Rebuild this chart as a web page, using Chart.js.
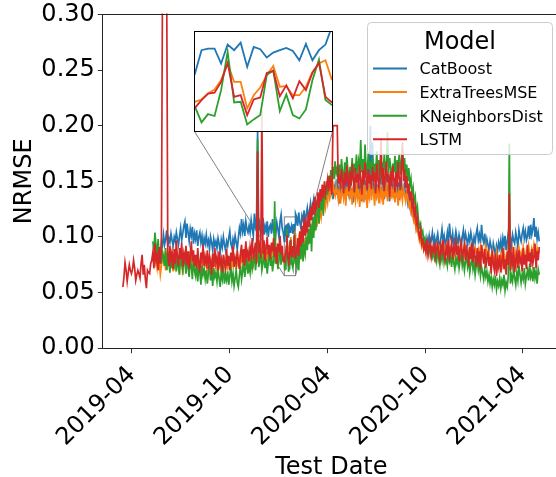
<!DOCTYPE html>
<html>
<head>
<meta charset="utf-8">
<script src="https://cdn.jsdelivr.net/npm/chart.js@4.4.0/dist/chart.umd.min.js"></script>
<style>
  html, body { margin: 0; padding: 0; background: #fff; overflow: hidden; }
  #wrap { position: relative; width: 560px; height: 477px; }
  #main { position: absolute; left: 0; top: 0; }
  #zoom { position: absolute; left: 194px; top: 31px; background: rgba(255, 255, 255, 0.85); }
</style>
</head>
<body>
<div id="wrap">
  <canvas id="main" width="560" height="477"></canvas>
  <canvas id="zoom" width="139" height="101"></canvas>
</div>
<script>
// NRMSE per test day, stored as value x 1000.
// head: 2019-03-15.. every 2 days (LSTM only)
// early: 2019-05-10.. every 2 days, zoom: 2020-01-11.. daily, late: 2020-02-03.. every 2 days
const lstmHead = [55, 64, 77, 70, 60, 68, 75, 70, 67, 71, 79, 72, 61, 66, 70, 67, 63, 76, 84, 66,
  75, 62, 54, 70, 68, 67, 76, 79];

const catBoostEarly = [
  84, 80, 88, 86, 82, 90, 87, 84, 95, 92,
  102, 93, 98, 106, 91, 99, 95, 103, 97, 92,
  100, 96, 104, 98, 93, 101, 108, 97, 103, 110,
  114, 99, 112, 104, 96, 107, 101, 109, 94, 103,
  98, 106, 92, 100, 104, 95, 101, 90, 99, 94,
  102, 93, 97, 89, 100, 95, 88, 98, 92, 96,
  90, 99, 94, 86, 97, 91, 100, 93, 88, 96,
  92, 99, 105, 94, 90, 98, 93, 101, 95, 89,
  99, 108, 103, 116, 105, 111, 101, 114, 107, 104,
  110, 104, 115, 107, 101, 121, 109, 113, 195, 106,
  112, 103, 109, 117, 102, 110, 105, 114, 100, 109,
  111, 103, 116, 106, 110, 102, 113, 107, 100, 114,
  120, 108, 104];
const catBoostZoom = [95.9, 108.3, 109.1, 109.1, 101.2, 111.3, 108.3, 112.3, 99.4, 110.0, 108.8,
  104.4, 107.0, 108.3, 109.5, 107.9, 102.9, 111.6, 102.9, 108.3, 111.3, 121.0];
const catBoostLate = [
  118, 110, 122, 113, 108, 119, 115, 124, 111, 120,
  126, 117, 123, 130, 119, 128, 134, 122, 131, 127,
  136, 125, 133, 141, 129, 138, 132, 144, 135, 140,
  146, 137, 143, 150, 134, 141, 147, 138, 152, 143,
  130, 145, 139, 151, 136, 148, 133, 155, 142, 137,
  149, 135, 144, 131, 153, 140, 146, 134, 150, 139,
  145, 132, 156, 141, 137, 151, 143, 134, 148, 200,
  152, 185, 144, 136, 150, 139, 147, 131, 154, 142,
  137, 149, 134, 145, 152, 138, 143, 132, 150, 140,
  146, 135, 153, 141, 137, 149, 133, 144, 151, 138,
  142, 147, 136, 140, 131, 138, 128, 133, 122, 126,
  116, 120, 108, 112, 104, 99, 103, 95, 98, 92,
  96, 90, 99, 94, 101, 93, 97, 104, 95, 100,
  92, 98, 103, 95, 90, 99, 107, 96, 101, 93,
  97, 104, 94, 112, 100, 96, 103, 91, 98, 105,
  99, 94, 102, 97, 91, 100, 106, 95, 103, 98,
  93, 101, 96, 104, 98, 92, 100, 95, 103, 108,
  97, 102, 94, 111, 99, 95, 103, 90, 98, 93,
  88, 96, 91, 85, 94, 89, 83, 92, 87, 95,
  90, 97, 86, 99, 93, 101, 88, 96, 103, 94,
  99, 92, 102, 97, 94, 104, 98, 91, 106, 100,
  96, 103, 108, 99, 105, 97, 101, 110, 98, 111,
  102, 107, 117, 100, 109, 98, 104, 96];

const extraTreesEarly = [
  82, 76, 86, 79, 72, 84, 77, 66, 74, 88,
  78, 83, 70, 86, 75, 80, 73, 84, 77, 69,
  81, 74, 85, 78, 72, 83, 76, 80, 66, 79,
  84, 75, 81, 73, 87, 77, 82, 74, 79, 71,
  80, 76, 84, 72, 78, 82, 70, 77, 83, 75,
  79, 71, 76, 82, 73, 78, 68, 80, 75, 72,
  77, 70, 81, 74, 69, 78, 73, 79, 71, 76,
  72, 80, 75, 70, 78, 74, 82, 76, 71, 79,
  75, 81, 77, 84, 73, 79, 86, 78, 82, 76,
  83, 78, 86, 80, 75, 84, 79, 88, 82, 77,
  85, 80, 87, 78, 83, 89, 81, 86, 79, 84,
  88, 82, 90, 84, 79, 86, 91, 83, 87, 80,
  89, 84, 82];
const extraTreesZoom = [80.8, 82.0, 85.2, 87.3, 92.3, 101.2, 91.4, 91.4, 77.2, 84.3, 88.4,
  95.0, 99.9, 88.8, 89.1, 84.3, 84.3, 88.8, 96.7, 101.2, 102.9, 92.3];
const extraTreesLate = [
  92, 86, 97, 89, 84, 95, 90, 99, 87, 94,
  101, 93, 106, 98, 110, 102, 114, 105, 117, 109,
  121, 112, 125, 118, 130, 122, 134, 127, 138, 131,
  142, 136, 145, 139, 148, 141, 137, 146, 140, 133,
  144, 130, 139, 147, 135, 142, 128, 145, 137, 150,
  134, 141, 129, 146, 138, 132, 149, 136, 143, 127,
  140, 135, 147, 131, 144, 138, 126, 142, 136, 151,
  133, 145, 139, 128, 146, 137, 143, 130, 148, 135,
  141, 129, 144, 136, 150, 132, 139, 147, 134, 142,
  137, 146, 131, 143, 139, 128, 145, 136, 141, 133,
  144, 138, 132, 140, 135, 128, 131, 122, 125, 117,
  113, 118, 106, 109, 101, 96, 99, 91, 94, 88,
  92, 86, 89, 84, 91, 87, 82, 90, 85, 88,
  83, 91, 86, 80, 89, 84, 92, 87, 81, 90,
  86, 93, 84, 89, 82, 91, 87, 80, 88, 94,
  85, 90, 83, 92, 87, 81, 89, 84, 91, 86,
  82, 88, 85, 93, 80, 87, 84, 90, 86, 83,
  89, 85, 91, 82, 88, 80, 86, 92, 84, 79,
  85, 78, 83, 87, 76, 82, 79, 86, 74, 81,
  77, 84, 73, 80, 86, 75, 82, 78, 85, 80,
  83, 76, 88, 81, 79, 86, 77, 84, 90, 82,
  86, 80, 91, 84, 78, 88, 83, 92, 85, 80,
  89, 84, 93, 87, 82, 90, 85, 88];

const kNeighborsEarly = [
  96, 88, 104, 92, 85, 98, 80, 90, 76, 86,
  82, 74, 90, 70, 84, 77, 68, 86, 72, 80,
  75, 88, 69, 82, 73, 66, 84, 76, 70, 81,
  78, 67, 85, 72, 64, 80, 74, 62, 79, 70,
  65, 76, 60, 73, 68, 57, 74, 66, 71, 62,
  70, 58, 67, 75, 61, 69, 56, 72, 64, 68,
  60, 71, 63, 55, 68, 62, 74, 58, 66, 61,
  69, 57, 65, 72, 60, 67, 56, 63, 70, 59,
  55, 66, 74, 62, 69, 78, 64, 72, 80, 67,
  75, 68, 82, 71, 77, 86, 70, 79, 188, 73,
  78, 84, 70, 76, 88, 72, 80, 67, 77, 90,
  74, 82, 69, 79, 132, 76, 85, 71, 80, 92,
  75, 84, 79];
const kNeighborsZoom = [78.1, 69.8, 74.2, 73.2, 87.0, 107.4, 80.4, 80.8, 68.7, 71.4, 73.7,
  95.0, 97.6, 75.8, 84.7, 73.7, 71.9, 76.7, 92.3, 103.3, 81.7, 79.0];
const kNeighborsLate = [
  74, 86, 70, 95, 80, 104, 78, 92, 85, 100,
  88, 107, 94, 112, 87, 118, 99, 125, 106, 121,
  131, 112, 136, 124, 142, 119, 146, 133, 150, 138,
  155, 144, 160, 149, 163, 152, 168, 157, 162, 150,
  165, 153, 170, 158, 148, 167, 156, 172, 160, 151,
  163, 155, 171, 150, 166, 159, 174, 153, 168, 161,
  187, 158, 170, 152, 183, 163, 155, 175, 160, 168,
  156, 172, 150, 166, 158, 177, 154, 169, 161, 152,
  167, 159, 174, 155, 164, 194, 157, 171, 162, 150,
  166, 158, 173, 153, 169, 161, 175, 156, 168, 180,
  160, 171, 155, 165, 150, 162, 146, 152, 138, 144,
  131, 136, 122, 127, 115, 109, 112, 102, 105, 96,
  99, 91, 95, 87, 92, 84, 89, 82, 86, 80,
  84, 78, 87, 81, 75, 85, 79, 88, 77, 83,
  80, 74, 86, 78, 82, 73, 84, 77, 71, 81,
  76, 83, 72, 79, 85, 74, 80, 70, 78, 82,
  73, 79, 68, 76, 81, 71, 77, 66, 74, 80,
  70, 76, 65, 73, 68, 62, 71, 64, 69, 60,
  66, 58, 64, 55, 62, 57, 65, 53, 60, 56,
  63, 54, 61, 57, 66, 52, 59, 55, 64, 184,
  58, 65, 60, 71, 63, 57, 68, 61, 74, 66,
  59, 67, 62, 72, 58, 65, 70, 61, 76, 64,
  68, 60, 73, 63, 69, 58, 71, 66];

const lstmEarly = [
  86, 72, 94, 78, 83, 70, 91, 76, 88, 320,
  320, 320, 320, 320, 84, 74, 92, 79, 86, 71,
  89, 76, 97, 82, 74, 90, 80, 95, 73, 85,
  79, 92, 75, 87, 71, 83, 96, 78, 88, 74,
  84, 72, 90, 77, 68, 86, 79, 93, 74, 82,
  76, 88, 71, 83, 78, 66, 85, 73, 90, 77,
  82, 70, 87, 75, 80, 68, 84, 77, 72, 89,
  74, 83, 70, 86, 78, 92, 73, 81, 76, 88,
  79, 71, 85, 93, 77, 89, 74, 96, 82, 87,
  78, 91, 84, 99, 80, 88, 95, 76, 177, 86,
  92, 81, 214, 85, 97, 79, 90, 100, 84, 93,
  80, 95, 87, 99, 82, 91, 76, 94, 86, 101,
  84, 92, 78];
const lstmZoom = [77.6, 81.7, 85.2, 85.6, 91.4, 101.5, 83.4, 84.3, 73.7, 82.0, 83.1,
  96.2, 97.1, 83.8, 89.6, 82.6, 91.8, 87.0, 96.2, 101.5, 83.4, 80.4];
const lstmLate = [
  86, 99, 83, 105, 92, 110, 95, 118, 101, 112,
  104, 122, 109, 127, 115, 131, 120, 136, 124, 130,
  140, 126, 143, 132, 147, 135, 150, 139, 145, 152,
  141, 155, 146, 138, 200, 200, 200, 200, 200, 148,
  156, 143, 161, 150, 139, 158, 147, 164, 152, 141,
  159, 146, 166, 153, 140, 162, 149, 157, 144, 165,
  151, 138, 160, 147, 167, 154, 142, 161, 148, 156,
  143, 163, 150, 158, 139, 166, 152, 145, 160, 189,
  147, 162, 141, 155, 168, 149, 157, 136, 159, 146,
  164, 151, 140, 158, 145, 167, 153, 142, 160, 185,
  150, 161, 144, 155, 139, 148, 133, 141, 127, 134,
  120, 126, 112, 117, 105, 100, 106, 94, 97, 89,
  93, 86, 98, 84, 91, 96, 83, 90, 87, 95,
  82, 89, 94, 85, 80, 92, 87, 97, 84, 79,
  91, 85, 98, 82, 88, 95, 80, 90, 86, 99,
  84, 92, 78, 89, 95, 81, 87, 93, 79, 90,
  86, 74, 91, 80, 95, 77, 88, 82, 73, 90,
  79, 87, 71, 93, 84, 76, 89, 72, 81, 86,
  74, 82, 67, 88, 76, 70, 85, 65, 79, 73,
  84, 68, 77, 90, 71, 80, 66, 87, 75, 139,
  70, 83, 76, 91, 68, 79, 86, 72, 88, 77,
  81, 69, 90, 75, 84, 71, 93, 78, 86, 73,
  89, 76, 82, 94, 72, 87, 79, 91];

const modelNames = ['CatBoost', 'ExtraTreesMSE', 'KNeighborsDist', 'LSTM'];
const modelColors = ['#1f77b4', '#ff7f0e', '#2ca02c', '#d62728'];

const tickDates = ['2019-04-01', '2019-10-01', '2020-04-01', '2020-10-01', '2021-04-01'];
const yTicks = [0, 0.05, 0.1, 0.15, 0.2, 0.25, 0.3];

// days counted from 2019-01-01
const dayZero = Date.parse('2019-01-01');
const dayOf = iso => (Date.parse(iso) - dayZero) / 864e5;

const headStart = dayOf('2019-03-15');
const earlyStart = dayOf('2019-05-10');
const zoomStart = dayOf('2020-01-11');
const lateStart = dayOf('2020-02-03');

const zoomX = [dayOf('2020-01-11'), dayOf('2020-02-01')];
const zoomY = [0.0652, 0.118];
const xRange = [35.4, 890.8];

const seriesParts = [
  [[earlyStart, 2, catBoostEarly], [zoomStart, 1, catBoostZoom], [lateStart, 2, catBoostLate]],
  [[earlyStart, 2, extraTreesEarly], [zoomStart, 1, extraTreesZoom], [lateStart, 2, extraTreesLate]],
  [[earlyStart, 2, kNeighborsEarly], [zoomStart, 1, kNeighborsZoom], [lateStart, 2, kNeighborsLate]],
  [[headStart, 2, lstmHead], [earlyStart, 2, lstmEarly], [zoomStart, 1, lstmZoom], [lateStart, 2, lstmLate]]
];

function toPoints(parts) {
  const out = [];
  for (const [start, step, vals] of parts) {
    vals.forEach((v, i) => out.push({ x: start + i * step, y: v / 1000 }));
  }
  return out;
}

function makeDatasets(width, clip) {
  return modelNames.map((name, i) => ({
    label: name,
    data: toPoints(seriesParts[i]),
    borderColor: modelColors[i],
    borderWidth: width,
    pointRadius: 0,
    tension: 0,
    order: modelNames.length - i,   // LSTM ends up on top
    clip: clip
  }));
}

const FAMILY = "'DejaVu Sans', sans-serif";
const AXIS = '#222';
const insetBox = { left: 194.5, top: 31.5, right: 332.5, bottom: 131.5 };

// rectangle around the zoomed window plus the two connector lines
const zoomMarker = {
  id: 'zoomMarker',
  beforeDatasetsDraw(chart) {
    const { ctx, scales: { x, y } } = chart;
    const x0 = x.getPixelForValue(zoomX[0]), x1 = x.getPixelForValue(zoomX[1]);
    const y0 = y.getPixelForValue(zoomY[0]), y1 = y.getPixelForValue(zoomY[1]);
    ctx.save();
    ctx.strokeStyle = '#808080';
    ctx.lineWidth = 1;
    ctx.strokeRect(x0, y1, x1 - x0, y0 - y1);
    ctx.beginPath();
    ctx.moveTo(x0, y0);
    ctx.lineTo(insetBox.left, insetBox.bottom);
    ctx.moveTo(x1, y0);
    ctx.lineTo(insetBox.right, insetBox.bottom);
    ctx.stroke();
    ctx.restore();
  }
};

const topSpine = {
  id: 'topSpine',
  afterDatasetsDraw(chart) {
    const { ctx, chartArea: a } = chart;
    ctx.save();
    ctx.strokeStyle = AXIS;
    ctx.lineWidth = 1;
    ctx.beginPath();
    ctx.moveTo(a.left, Math.round(a.top) + 0.5);
    ctx.lineTo(a.right, Math.round(a.top) + 0.5);
    ctx.stroke();
    ctx.restore();
  }
};

const legendBox = {
  id: 'legendBox',
  afterDraw(chart) {
    const ctx = chart.ctx;
    ctx.save();
    ctx.beginPath();
    ctx.roundRect(367.5, 22.5, 185, 132, 4);
    ctx.fillStyle = 'rgba(255, 255, 255, 0.8)';
    ctx.fill();
    ctx.strokeStyle = '#cccccc';
    ctx.lineWidth = 1;
    ctx.stroke();

    ctx.fillStyle = '#000';
    ctx.textAlign = 'center';
    ctx.textBaseline = 'alphabetic';
    ctx.font = `24px ${FAMILY}`;
    ctx.fillText('Model', 460, 48.5);

    ctx.textAlign = 'left';
    ctx.font = `16px ${FAMILY}`;
    modelNames.forEach((name, i) => {
      const cy = 68.5 + i * 23.6;
      ctx.strokeStyle = modelColors[i];
      ctx.lineWidth = 2;
      ctx.beginPath();
      ctx.moveTo(373, cy);
      ctx.lineTo(407, cy);
      ctx.stroke();
      ctx.fillStyle = '#000';
      ctx.fillText(name, 419.5, cy + 5.8);
    });
    ctx.restore();
  }
};

const tickDays = tickDates.map(dayOf);

new Chart(document.getElementById('main'), {
  type: 'line',
  data: { datasets: makeDatasets(1.7, 0.8) },
  options: {
    responsive: false,
    animation: false,
    events: [],
    layout: { padding: { top: 14.4, right: 0, bottom: 0, left: 0 } },
    plugins: { legend: { display: false }, tooltip: { enabled: false } },
    scales: {
      x: {
        type: 'linear',
        min: xRange[0],
        max: xRange[1],
        afterBuildTicks: s => { s.ticks = tickDays.map(value => ({ value })); },
        afterFit: s => { s.height = 128.8; s.paddingLeft = 0; s.paddingRight = 0; },
        ticks: {
          autoSkip: false,
          minRotation: 45,
          maxRotation: 45,
          padding: 17,
          color: '#000',
          font: { family: FAMILY, size: 24, lineHeight: 0.1 },
          callback: v => tickDates[tickDays.indexOf(v)].slice(0, 7)
        },
        grid: { drawOnChartArea: false, tickLength: 5, color: '#333' },
        border: { color: AXIS, width: 1 },
        title: {
          display: true, text: 'Test Date', color: '#000',
          font: { family: FAMILY, size: 24, lineHeight: 1 },
          padding: { top: 0, bottom: -3 }
        }
      },
      y: {
        min: 0,
        max: 0.3,
        afterBuildTicks: s => { s.ticks = yTicks.map(value => ({ value })); },
        afterFit: s => { s.width = 102.8; s.paddingTop = 0; s.paddingBottom = 0; },
        ticks: {
          padding: 3,
          color: '#000',
          font: { family: FAMILY, size: 24 },
          callback: v => v.toFixed(2)
        },
        grid: { drawOnChartArea: false, tickLength: 5, color: '#333' },
        border: { color: AXIS, width: 1 },
        title: {
          display: true, text: 'NRMSE', color: '#000',
          font: { family: FAMILY, size: 24, lineHeight: 1 },
          padding: { top: 13, bottom: 0 }
        }
      }
    }
  },
  plugins: [zoomMarker, topSpine, legendBox]
});

// zoomed-in view of January 2020
const insetFrame = {
  id: 'insetFrame',
  afterDraw(chart) {
    const ctx = chart.ctx;
    ctx.save();
    ctx.strokeStyle = '#000';
    ctx.lineWidth = 1;
    ctx.strokeRect(0.5, 0.5, chart.width - 1, chart.height - 1);
    ctx.restore();
  }
};

new Chart(document.getElementById('zoom'), {
  type: 'line',
  data: { datasets: makeDatasets(1.8, 0) },
  options: {
    responsive: false,
    animation: false,
    events: [],
    layout: { padding: 1 },
    plugins: { legend: { display: false }, tooltip: { enabled: false } },
    scales: {
      x: { type: 'linear', display: false, min: zoomX[0], max: zoomX[1] },
      y: { display: false, min: zoomY[0], max: zoomY[1] }
    }
  },
  plugins: [insetFrame]
});
</script>
</body>
</html>
